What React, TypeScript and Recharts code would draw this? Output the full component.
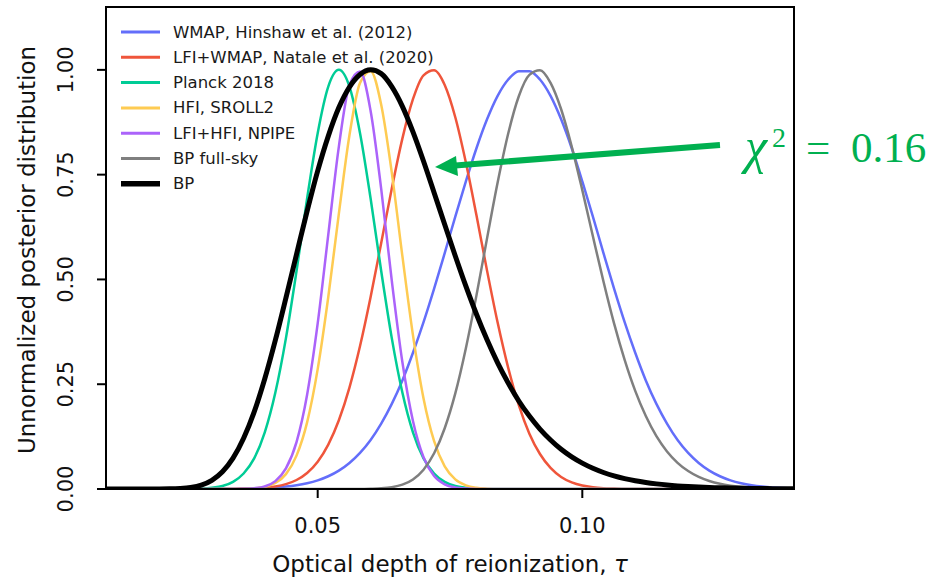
import { LineChart, Line, XAxis, YAxis, ReferenceArea } from "recharts";

// optical depth grid (tau)
const tau = [
  0.010, 0.012, 0.014, 0.016, 0.018, 0.020, 0.022, 0.024, 0.026, 0.028,
  0.030, 0.032, 0.034, 0.036, 0.038, 0.040, 0.042, 0.044, 0.046, 0.048,
  0.050, 0.052, 0.054, 0.056, 0.058, 0.060, 0.062, 0.064, 0.066, 0.068,
  0.070, 0.072, 0.074, 0.076, 0.078, 0.080, 0.082, 0.084, 0.086, 0.088,
  0.090, 0.092, 0.094, 0.096, 0.098, 0.100, 0.102, 0.104, 0.106, 0.108,
  0.110, 0.112, 0.114, 0.116, 0.118, 0.120, 0.122, 0.124, 0.126, 0.128,
  0.130, 0.132, 0.134, 0.136, 0.138, 0.140,
];

const wmap = [
  0, 0, 0, 0, 0, 0, 0, 0, 0, 0,
  0, 0, 0, 0.0008, 0.0013, 0.0022, 0.0036, 0.0057, 0.0089, 0.0137,
  0.0206, 0.0304, 0.0439, 0.0622, 0.0862, 0.117, 0.156, 0.203, 0.259, 0.325,
  0.398, 0.478, 0.563, 0.65, 0.734, 0.813, 0.882, 0.938, 0.977, 0.997,
  0.997, 0.977, 0.938, 0.882, 0.813, 0.734, 0.65, 0.563, 0.478, 0.398,
  0.325, 0.259, 0.203, 0.156, 0.117, 0.0862, 0.0622, 0.0439, 0.0304, 0.0206,
  0.0137, 0.0089, 0.0057, 0.0036, 0.0022, 0.0013,
];

const natale = [
  0, 0, 0, 0, 0, 0, 0, 0, 0, 0,
  0, 0, 0, 0.0006, 0.0013, 0.0028, 0.0059, 0.0115, 0.0215, 0.0383,
  0.0652, 0.106, 0.164, 0.242, 0.341, 0.458, 0.587, 0.717, 0.836, 0.93,
  0.987, 0.999, 0.964, 0.887, 0.779, 0.653, 0.521, 0.397, 0.289, 0.2,
  0.132, 0.0835, 0.0503, 0.0288, 0.0158, 0.0082, 0.0041, 0.0019, 0.0009, 0,
  0, 0, 0, 0, 0, 0, 0, 0, 0, 0,
  0, 0, 0, 0, 0, 0,
];

const planck = [
  0, 0, 0, 0, 0, 0, 0, 0, 0, 0.001,
  0.003, 0.007, 0.017, 0.037, 0.073, 0.135, 0.23, 0.36, 0.52, 0.693,
  0.849, 0.96, 1.0, 0.96, 0.849, 0.693, 0.52, 0.36, 0.23, 0.135,
  0.073, 0.037, 0.017, 0.007, 0.003, 0.001, 0, 0, 0, 0,
  0, 0, 0, 0, 0, 0, 0, 0, 0, 0,
  0, 0, 0, 0, 0, 0, 0, 0, 0, 0,
  0, 0, 0, 0, 0, 0,
];

const sroll2 = [
  0, 0, 0, 0, 0, 0, 0, 0, 0, 0,
  0, 0, 0, 0, 0.0016, 0.0051, 0.0142, 0.0355, 0.0796, 0.159,
  0.286, 0.458, 0.657, 0.844, 0.969, 0.997, 0.917, 0.755, 0.556, 0.367,
  0.216, 0.114, 0.0539, 0.0228, 0.0086, 0.0029, 0.0009, 0, 0, 0,
  0, 0, 0, 0, 0, 0, 0, 0, 0, 0,
  0, 0, 0, 0, 0, 0, 0, 0, 0, 0,
  0, 0, 0, 0, 0, 0,
];

const npipe = [
  0, 0, 0, 0, 0, 0, 0, 0, 0, 0,
  0, 0, 0, 0.0005, 0.0019, 0.0063, 0.0189, 0.0492, 0.112, 0.225,
  0.395, 0.607, 0.817, 0.964, 0.996, 0.902, 0.716, 0.497, 0.303, 0.162,
  0.0756, 0.031, 0.0111, 0.0035, 0.001, 0, 0, 0, 0, 0,
  0, 0, 0, 0, 0, 0, 0, 0, 0, 0,
  0, 0, 0, 0, 0, 0, 0, 0, 0, 0,
  0, 0, 0, 0, 0, 0,
];

const bpFullSky = [
  0, 0, 0, 0, 0, 0, 0, 0, 0, 0,
  0, 0, 0, 0, 0, 0, 0, 0, 0, 0,
  0, 0, 0, 0, 0, 0.0005, 0.0015, 0.0042, 0.0103, 0.0229,
  0.0461, 0.0852, 0.145, 0.228, 0.336, 0.462, 0.598, 0.731, 0.848, 0.937,
  0.988, 0.999, 0.969, 0.906, 0.817, 0.713, 0.603, 0.495, 0.395, 0.308,
  0.234, 0.174, 0.126, 0.0896, 0.0625, 0.0428, 0.0288, 0.0191, 0.0124, 0.008,
  0.0051, 0.0032, 0.002, 0.0012, 0.0007, 0.0004,
];

const bp = [
  0, 0, 0, 0, 0, 0.0001, 0.0003, 0.0012, 0.0036, 0.0092,
  0.0206, 0.041, 0.0735, 0.121, 0.184, 0.263, 0.355, 0.456, 0.56, 0.663,
  0.759, 0.842, 0.91, 0.959, 0.989, 1.0, 0.991, 0.96, 0.913, 0.852,
  0.782, 0.707, 0.631, 0.556, 0.484, 0.417, 0.356, 0.301, 0.253, 0.21,
  0.174, 0.143, 0.117, 0.0948, 0.0766, 0.0617, 0.0494, 0.0394, 0.0313, 0.0248,
  0.0196, 0.0155, 0.0122, 0.0095, 0.0074, 0.0058, 0.0045, 0.0035, 0.0027, 0.0021,
  0.0016, 0.0013, 0.001, 0.0008, 0.0006, 0.0005,
];

const xTicks = [0.05, 0.1];
const yTicks = [0, 0.25, 0.5, 0.75, 1.0];

const series = [
  { key: "wmap", name: "WMAP, Hinshaw et al. (2012)", color: "#636EFA", width: 2.5 },
  { key: "natale", name: "LFI+WMAP, Natale et al. (2020)", color: "#EF553B", width: 2.5 },
  { key: "planck", name: "Planck 2018", color: "#00CC96", width: 2.5 },
  { key: "sroll2", name: "HFI, SROLL2", color: "#FECB52", width: 2.5 },
  { key: "npipe", name: "LFI+HFI, NPIPE", color: "#AB63FA", width: 2.5 },
  { key: "bpFullSky", name: "BP full-sky", color: "#7F7F7F", width: 2.5 },
  { key: "bp", name: "BP", color: "#000000", width: 5 },
];

const data = tau.map((t, i) => ({
  tau: t,
  wmap: wmap[i],
  natale: natale[i],
  planck: planck[i],
  sroll2: sroll2[i],
  npipe: npipe[i],
  bpFullSky: bpFullSky[i],
  bp: bp[i],
}));

const FONT = "'DejaVu Sans', sans-serif";
const GREEN = "#00B050";

function XTick(props: any) {
  const { x, y, payload } = props;
  return (
    <text x={x} y={y + 26} textAnchor="middle" dominantBaseline="central"
      fontFamily={FONT} fontSize={21} fill="#111">
      {payload.value.toFixed(2)}
    </text>
  );
}

function YTick(props: any) {
  const { x, y, payload } = props;
  const cx = x - 29;
  return (
    <text x={cx} y={y} textAnchor="middle" dominantBaseline="central"
      transform={`rotate(-90 ${cx} ${y})`} fontFamily={FONT} fontSize={21} fill="#111">
      {payload.value.toFixed(2)}
    </text>
  );
}

export default function App() {
  return (
    <div style={{ position: "absolute", left: 0, top: 0, width: 949, height: 580, background: "#fff" }}>
      <LineChart width={949} height={580} data={data}
        margin={{ top: 7, right: 155, bottom: 0, left: 0 }}>
        <XAxis dataKey="tau" type="number" domain={[0.01, 0.14]} ticks={xTicks}
          allowDataOverflow height={91} tick={<XTick />} tickSize={9}
          axisLine={{ stroke: "#000", strokeWidth: 2 }}
          tickLine={{ stroke: "#000", strokeWidth: 2 }} />
        <YAxis type="number" domain={[0, 1.15]} ticks={yTicks} allowDataOverflow
          width={106} tick={<YTick />} tickSize={9}
          axisLine={{ stroke: "#000", strokeWidth: 2 }}
          tickLine={{ stroke: "#000", strokeWidth: 2 }} />
        {series.map((s) => (
          <Line key={s.key} dataKey={s.key} name={s.name} type="monotone"
            stroke={s.color} strokeWidth={s.width} dot={false}
            isAnimationActive={false} strokeLinejoin="round" />
        ))}
        <ReferenceArea x1={0.01} x2={0.14} y1={0} y2={1.15} fill="none"
          fillOpacity={0} stroke="#000" strokeWidth={2} />
      </LineChart>
      <svg width={949} height={580} style={{ position: "absolute", left: 0, top: 0, pointerEvents: "none" }}>
        {/* legend */}
        {series.map((s, i) => {
          const cy = 32 + i * 25.3;
          return (
            <g key={s.key}>
              <line x1={121} x2={160} y1={cy} y2={cy} stroke={s.color}
                strokeWidth={s.key === "bp" ? 5.5 : 3} />
              <text x={173} y={cy} dominantBaseline="central" fontFamily={FONT}
                fontSize={16.5} fill="#1a1a1a">{s.name}</text>
            </g>
          );
        })}
        {/* axis titles */}
        <text x={450} y={564} textAnchor="middle" dominantBaseline="central"
          fontFamily={FONT} fontSize={23} fill="#111">
          Optical depth of reionization, <tspan fontStyle="italic">τ</tspan>
        </text>
        <text x={27} y={250} textAnchor="middle" dominantBaseline="central"
          transform="rotate(-90 27 250)" fontFamily={FONT} fontSize={23} fill="#111">
          Unnormalized posterior distribution
        </text>
        {/* chi-square annotation */}
        <line x1={720} y1={145} x2={452} y2={165.7} stroke={GREEN} strokeWidth={6} />
        <polygon points="435,167 456,156 458,176" fill={GREEN} />
        <text fontFamily="'Liberation Serif', serif" fill={GREEN}>
          <tspan x={745} y={163} fontSize={50} fontStyle="italic">χ</tspan>
          <tspan x={772} y={147} fontSize={28}>2</tspan>
          <tspan x={806} y={162} fontSize={43}>=</tspan>
          <tspan x={851} y={162} fontSize={43}>0.16</tspan>
        </text>
      </svg>
    </div>
  );
}
